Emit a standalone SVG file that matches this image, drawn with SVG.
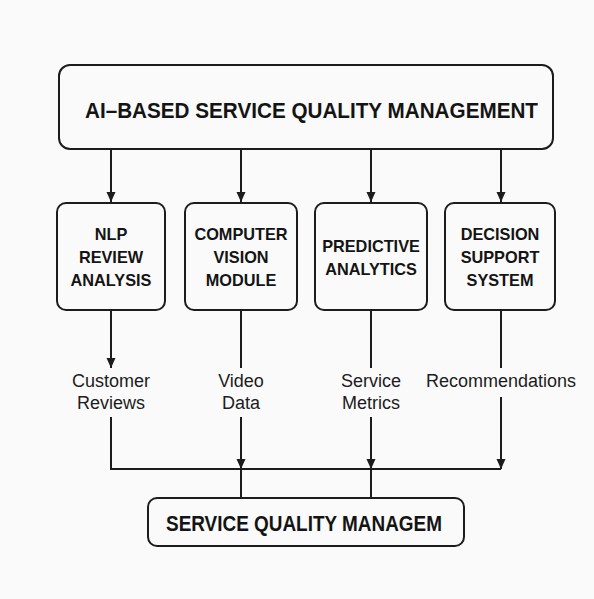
<svg xmlns="http://www.w3.org/2000/svg" width="594" height="599" viewBox="0 0 594 599">
  <style>
    .box { fill: #fafafa; stroke: #1c1c1c; stroke-width: 2; }
    .line { fill: none; stroke: #1c1c1c; stroke-width: 2; }
    .title { font-family: "Liberation Sans", Arial, sans-serif; font-weight: bold; fill: #141414; text-anchor: middle; }
    .mod { font-family: "Liberation Sans", Arial, sans-serif; font-weight: bold; font-size: 16.3px; fill: #141414; text-anchor: middle; }
    .lbl { font-family: "Liberation Sans", Arial, sans-serif; font-size: 18px; fill: #1c1c1c; text-anchor: middle; }
  </style>
  <defs>
    <marker id="arrow" viewBox="0 0 10 10" refX="10" refY="5" markerWidth="10" markerHeight="10" markerUnits="userSpaceOnUse" orient="auto">
      <path d="M0,0.5 L10,5 L0,9.5 Z" fill="#1c1c1c"/>
    </marker>
  </defs>

  <rect width="594" height="599" fill="#fafafa"/>

  <g id="connectors">
    <!-- top box to modules -->
    <path class="line" d="M111,149 V202" marker-end="url(#arrow)"/>
    <path class="line" d="M241,149 V202" marker-end="url(#arrow)"/>
    <path class="line" d="M371,149 V202" marker-end="url(#arrow)"/>
    <path class="line" d="M501,149 V202" marker-end="url(#arrow)"/>
    <!-- modules to outputs -->
    <path class="line" d="M111,310 V368" marker-end="url(#arrow)"/>
    <path class="line" d="M241,310 V368"/>
    <path class="line" d="M371,310 V368"/>
    <path class="line" d="M501,310 V368"/>
    <!-- outputs to collector -->
    <path class="line" d="M111,417 V469 H501"/>
    <path class="line" d="M241,417 V469" marker-end="url(#arrow)"/>
    <path class="line" d="M371,417 V469" marker-end="url(#arrow)"/>
    <path class="line" d="M501,397 V469" marker-end="url(#arrow)"/>
    <!-- collector to bottom box -->
    <path class="line" d="M241,469 V498"/>
    <path class="line" d="M371,469 V498"/>
  </g>

  <g id="ai-sqm">
    <rect class="box" x="59" y="65" width="494" height="84" rx="11"/>
    <text class="title" x="311.5" y="118" font-size="22" textLength="453" lengthAdjust="spacingAndGlyphs">AI–BASED SERVICE QUALITY MANAGEMENT</text>
  </g>

  <g id="nlp">
    <rect class="box" x="57" y="203" width="108" height="107" rx="9"/>
    <text class="mod" x="111" y="240">NLP</text>
    <text class="mod" x="111" y="263">REVIEW</text>
    <text class="mod" x="111" y="286">ANALYSIS</text>
  </g>

  <g id="cv">
    <rect class="box" x="185" y="203" width="112" height="107" rx="9"/>
    <text class="mod" x="241" y="240">COMPUTER</text>
    <text class="mod" x="241" y="263">VISION</text>
    <text class="mod" x="241" y="286">MODULE</text>
  </g>

  <g id="pa">
    <rect class="box" x="315" y="203" width="112" height="107" rx="9"/>
    <text class="mod" x="371" y="252">PREDICTIVE</text>
    <text class="mod" x="371" y="275">ANALYTICS</text>
  </g>

  <g id="dss">
    <rect class="box" x="445" y="203" width="110" height="107" rx="9"/>
    <text class="mod" x="500" y="240">DECISION</text>
    <text class="mod" x="500" y="263">SUPPORT</text>
    <text class="mod" x="500" y="286">SYSTEM</text>
  </g>

  <g id="labels">
    <text class="lbl" x="111" y="387">Customer</text>
    <text class="lbl" x="111" y="409">Reviews</text>
    <text class="lbl" x="241" y="387">Video</text>
    <text class="lbl" x="241" y="409">Data</text>
    <text class="lbl" x="371" y="387">Service</text>
    <text class="lbl" x="371" y="409">Metrics</text>
    <text class="lbl" x="501" y="387">Recommendations</text>
  </g>

  <g id="sqm">
    <rect class="box" x="148" y="498" width="316" height="48" rx="9"/>
    <text class="title" x="304" y="531" font-size="22" textLength="276" lengthAdjust="spacingAndGlyphs">SERVICE QUALITY MANAGEM</text>
  </g>
</svg>
